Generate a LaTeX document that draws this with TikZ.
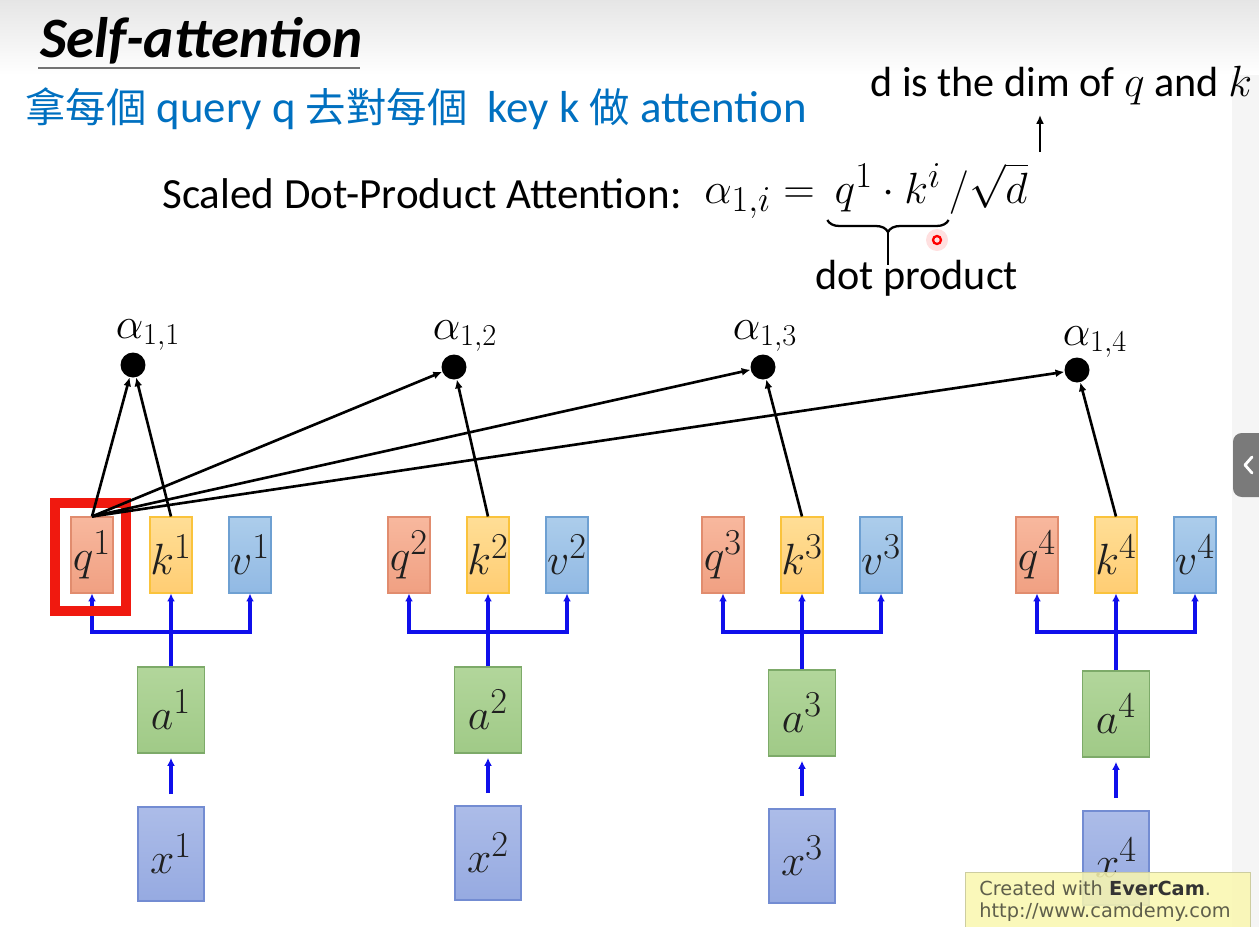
\documentclass[tikz,border=0pt]{standalone}
\usepackage{fontspec}
\setmainfont{Carlito}
\newfontfamily\cjkfont{Noto Sans CJK TC}
\newfontfamily\wmfont{DejaVu Sans}
\usetikzlibrary{arrows.meta,decorations.pathreplacing,calc}
\definecolor{qtop}{RGB}{248,184,158}
\definecolor{qbot}{RGB}{240,160,130}
\definecolor{qdraw}{RGB}{225,140,110}
\definecolor{ktop}{RGB}{255,222,150}
\definecolor{kbot}{RGB}{255,205,115}
\definecolor{kdraw}{RGB}{250,195,60}
\definecolor{vtop}{RGB}{172,205,235}
\definecolor{vbot}{RGB}{145,185,228}
\definecolor{vdraw}{RGB}{110,160,210}
\definecolor{atop}{RGB}{178,214,155}
\definecolor{abot}{RGB}{160,202,135}
\definecolor{adraw}{RGB}{125,170,105}
\definecolor{xtop}{RGB}{172,188,232}
\definecolor{xbot}{RGB}{150,170,225}
\definecolor{xdraw}{RGB}{115,140,210}
\definecolor{subblue}{RGB}{0,112,192}
\definecolor{arrblue}{RGB}{15,15,235}
\definecolor{hlred}{RGB}{240,25,15}
\definecolor{wmfill}{RGB}{250,247,175}
\definecolor{wmdraw}{RGB}{205,205,160}
\definecolor{wmtext}{RGB}{95,95,75}
\begin{document}
\begin{tikzpicture}[x=0.02cm,y=-0.02cm,
  box/.style={rectangle, inner sep=0pt, text=black!88, font=\fontsize{28}{30}\selectfont, line width=0.6pt},
  qbox/.style={box, minimum width=0.84cm, minimum height=1.52cm, draw=qdraw, top color=qtop, bottom color=qbot},
  kbox/.style={box, minimum width=0.84cm, minimum height=1.52cm, draw=kdraw, top color=ktop, bottom color=kbot},
  vbox/.style={box, minimum width=0.84cm, minimum height=1.52cm, draw=vdraw, top color=vtop, bottom color=vbot},
  abox/.style={box, minimum width=1.34cm, minimum height=1.72cm, draw=adraw, top color=atop, bottom color=abot},
  xbox/.style={box, minimum width=1.32cm, minimum height=1.88cm, draw=xdraw, top color=xtop, bottom color=xbot},
  barrow/.style={draw=arrblue, line width=1.9pt, -{Latex[length=4.5pt,width=4.5pt]}},
  karrow/.style={draw=black, line width=1.5pt, -{Latex[length=5pt,width=4.5pt]}},
  dotnode/.style={circle, fill=black, inner sep=0pt, minimum size=0.5cm},
  alab/.style={font=\fontsize{26}{28}\selectfont, inner sep=0pt},
  txt/.style={font=\fontsize{24}{28}\selectfont, inner sep=0pt},
  fpart/.style={anchor=base west, inner sep=0pt, font=\fontsize{31}{35}\selectfont}
]
\useasboundingbox (0,0) rectangle (1259,927);
\fill[white] (0,0) rectangle (1259,927);
\shade[top color=black!10, bottom color=white] (0,0) rectangle (1259,75);
\fill[black!4] (1232,75) rectangle (1259,927);

% title
\node[anchor=base west, inner sep=0pt, font=\fontsize{32.5}{35}\selectfont\bfseries\itshape] (title) at (40,57) {Self-attention};
\draw[black!55, line width=1.7pt] (38,68) -- (360,68);
\node[anchor=base west, inner sep=0pt, text=subblue, font=\fontsize{25.5}{30}\selectfont] (sub) at (25,122)
  {{\cjkfont\fontsize{23}{28}\selectfont 拿每個} query q {\cjkfont\fontsize{23}{28}\selectfont 去對每個}\ \ key k {\cjkfont\fontsize{23}{28}\selectfont 做} attention};

% formula
\node[txt, anchor=base west, font=\fontsize{24.5}{28}\selectfont] (sdp) at (162,208) {Scaled Dot-Product Attention:};
\node[fpart] (f1) at (704,203) {$\alpha_{1,i}=\mathstrut$};
\node[fpart, inner xsep=4pt] (f2) at (f1.base east) {$q^{1}\cdot k^{i}\mathstrut$};
\node[fpart] (f3) at (f2.base east) {$/\sqrt{d}$};
\node[txt, anchor=base west] (dim) at (870,96) {d is the dim of $q$ and $k$};
\coordinate (ua) at (1040,152);
\coordinate (ub) at (1040,115);
\draw[karrow] (ua) -- (ub);
\draw[black, line width=1.3pt, decorate, decoration={brace, mirror, amplitude=0.24cm}] ($(f2.base west)+(0,17)$) -- ($(f2.base east)+(0,17)$) coordinate[midway, yshift=-0.24cm] (bt);
\coordinate (bs) at ($(bt)+(0,33)$);
\draw[black, line width=1.3pt] (bt) -- (bs);
\node[txt, anchor=base west] (dp) at (815,289) {dot product};
\fill[red, opacity=0.12] (937,240) circle (11);
\draw[red, line width=1.3pt] (937,240) circle (4);

% groups
\foreach \g/\c/\ay/\xy in {1/171/710/854, 2/488/710/853, 3/802/713/856, 4/1116/714/858}{
  \node[qbox] (q\g) at (\c-79,555) {$q^{\g}$};
  \node[kbox] (k\g) at (\c,555) {$k^{\g}$};
  \node[vbox] (v\g) at (\c+79,555) {$v^{\g}$};
  \node[abox] (a\g) at (\c,\ay) {$a^{\g}$};
  \node[xbox] (x\g) at (\c,\xy) {$x^{\g}$};
  \coordinate (b\g) at (\c,632);
  \draw[barrow] (a\g.north) -- (k\g.south);
  \draw[barrow] (b\g) -| (q\g.south);
  \draw[barrow] (b\g) -| (v\g.south);
  \draw[barrow, shorten <=7pt, shorten >=2.5pt] (x\g.north) -- (a\g.south);
}

% highlight
\draw[hlred, line width=6.2pt] (55,503) rectangle (126,611);

% alpha dots
\node[dotnode] (d1) at (133,365) {};
\node[dotnode] (d2) at (454,367) {};
\node[dotnode] (d3) at (763,367) {};
\node[dotnode] (d4) at (1077,370) {};
\node[alab] (l1) at (148,335) {$\alpha_{1,1}$};
\node[alab] (l2) at (465,336) {$\alpha_{1,2}$};
\node[alab] (l3) at (765,336) {$\alpha_{1,3}$};
\node[alab] (l4) at (1095,342) {$\alpha_{1,4}$};

\draw[karrow] (q1.north) -- (d1);
\draw[karrow] (k1.north) -- (d1);
\draw[karrow] (q1.north) -- (d2);
\draw[karrow] (q1.north) -- (d3);
\draw[karrow] (q1.north) -- (d4);
\draw[karrow] (k2.north) -- (d2);
\draw[karrow] (k3.north) -- (d3);
\draw[karrow] (k4.north) -- (d4);

% watermark
\node[rectangle, draw=wmdraw, fill=wmfill, fill opacity=0.85, line width=0.8pt, minimum width=5.7cm, minimum height=1.2cm, anchor=north west, inner sep=0pt] (wm) at (965,872) {};
\node[anchor=west, inner sep=0pt, text=wmtext, font=\wmfont\fontsize{11}{13}\selectfont] (wm1) at (979,888) {Created with {\color{black!80}\bfseries EverCam}.};
\node[anchor=west, inner sep=0pt, text=wmtext, font=\wmfont\fontsize{11}{13}\selectfont] (wm2) at (979,912) {http://www.camdemy.com};

% side tab
\fill[black!52, rounded corners=5pt] (1233,433) rectangle (1275,497);
\coordinate (c1) at (1252,457);
\coordinate (c2) at (1245,465);
\coordinate (c3) at (1252,473);
\draw[white, line width=1.6pt, line cap=round, line join=round] (c1) -- (c2) -- (c3);
\end{tikzpicture}
\end{document}
